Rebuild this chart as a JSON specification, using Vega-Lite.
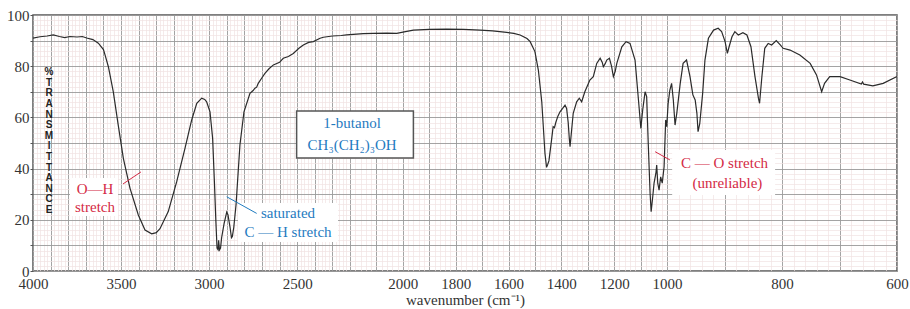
{
  "$schema": "https://vega.github.io/schema/vega-lite/v6.json",
  "width": 864,
  "height": 256,
  "autosize": {"type": "none"},
  "padding": {"left": 33, "top": 15, "right": 13, "bottom": 38},
  "background": "white",
  "config": {
    "view": {"stroke": "#555555", "strokeWidth": 1.5},
    "font": "Liberation Serif",
    "axis": {"domain": false}
  },
  "datasets": {
    "spectrum": [
      {"wn": 4000, "T": 91}, {"wn": 3960, "T": 91.5}, {"wn": 3920, "T": 91.8}, {"wn": 3885, "T": 92.2},
      {"wn": 3850, "T": 91.6}, {"wn": 3820, "T": 91.2}, {"wn": 3790, "T": 91.6}, {"wn": 3750, "T": 91.4},
      {"wn": 3720, "T": 91.6}, {"wn": 3695, "T": 91}, {"wn": 3660, "T": 90.4}, {"wn": 3629, "T": 89},
      {"wn": 3600, "T": 86.5}, {"wn": 3591, "T": 84.4}, {"wn": 3572, "T": 79.8}, {"wn": 3544, "T": 70},
      {"wn": 3516, "T": 57}, {"wn": 3487, "T": 44}, {"wn": 3449, "T": 32.3}, {"wn": 3402, "T": 21.9},
      {"wn": 3364, "T": 16}, {"wn": 3326, "T": 14.5}, {"wn": 3300, "T": 15}, {"wn": 3279, "T": 16.5},
      {"wn": 3232, "T": 23.2}, {"wn": 3184, "T": 34.9}, {"wn": 3137, "T": 47.9}, {"wn": 3099, "T": 59},
      {"wn": 3070, "T": 65.5}, {"wn": 3042, "T": 67.5}, {"wn": 3025, "T": 67}, {"wn": 3014, "T": 66.1},
      {"wn": 2995, "T": 62.2}, {"wn": 2980, "T": 51.8}, {"wn": 2970, "T": 35}, {"wn": 2962, "T": 20},
      {"wn": 2955, "T": 9}, {"wn": 2949, "T": 8.3}, {"wn": 2946, "T": 12}, {"wn": 2941, "T": 8.3},
      {"wn": 2935, "T": 9}, {"wn": 2929, "T": 13}, {"wn": 2915, "T": 18.5}, {"wn": 2900, "T": 23},
      {"wn": 2893, "T": 22}, {"wn": 2881, "T": 17}, {"wn": 2873, "T": 13}, {"wn": 2868, "T": 13.5},
      {"wn": 2860, "T": 17}, {"wn": 2847, "T": 26}, {"wn": 2825, "T": 49.2}, {"wn": 2802, "T": 62.2},
      {"wn": 2768, "T": 69.4}, {"wn": 2750, "T": 70.5}, {"wn": 2740, "T": 71.4}, {"wn": 2730, "T": 71.8},
      {"wn": 2721, "T": 73.3}, {"wn": 2700, "T": 75.5}, {"wn": 2683, "T": 77.2}, {"wn": 2660, "T": 79},
      {"wn": 2635, "T": 80.5}, {"wn": 2600, "T": 81.5}, {"wn": 2579, "T": 83.1}, {"wn": 2550, "T": 83.8},
      {"wn": 2522, "T": 85}, {"wn": 2490, "T": 87}, {"wn": 2465, "T": 88.3}, {"wn": 2435, "T": 89.3},
      {"wn": 2408, "T": 89.6}, {"wn": 2370, "T": 90.9}, {"wn": 2351, "T": 91.3}, {"wn": 2300, "T": 91.8},
      {"wn": 2250, "T": 92}, {"wn": 2219, "T": 92.2}, {"wn": 2150, "T": 92.7}, {"wn": 2112, "T": 92.8},
      {"wn": 2060, "T": 92.9}, {"wn": 2023, "T": 92.8}, {"wn": 1990, "T": 93.5}, {"wn": 1960, "T": 94.1},
      {"wn": 1900, "T": 94.4}, {"wn": 1834, "T": 94.5}, {"wn": 1770, "T": 94.4}, {"wn": 1708, "T": 94.1},
      {"wn": 1660, "T": 93.8}, {"wn": 1607, "T": 93.2}, {"wn": 1580, "T": 92.8}, {"wn": 1556, "T": 92.2},
      {"wn": 1530, "T": 90.8}, {"wn": 1518, "T": 89.6}, {"wn": 1500, "T": 85.7}, {"wn": 1487, "T": 78.5},
      {"wn": 1474, "T": 66}, {"wn": 1462, "T": 46}, {"wn": 1456, "T": 40.5}, {"wn": 1452, "T": 41.5},
      {"wn": 1447, "T": 43}, {"wn": 1437, "T": 51.2}, {"wn": 1431, "T": 56.4}, {"wn": 1426, "T": 56},
      {"wn": 1421, "T": 58}, {"wn": 1413, "T": 60.5}, {"wn": 1405, "T": 62.2}, {"wn": 1395, "T": 63.5},
      {"wn": 1386, "T": 64.8}, {"wn": 1380, "T": 63.5}, {"wn": 1374, "T": 58}, {"wn": 1370, "T": 52},
      {"wn": 1367, "T": 48.6}, {"wn": 1362, "T": 54}, {"wn": 1355, "T": 61.6}, {"wn": 1342, "T": 66.1},
      {"wn": 1332, "T": 67.5}, {"wn": 1323, "T": 66.1}, {"wn": 1311, "T": 70}, {"wn": 1292, "T": 74.6},
      {"wn": 1279, "T": 75.9}, {"wn": 1266, "T": 81.1}, {"wn": 1253, "T": 83.1}, {"wn": 1245, "T": 81.5},
      {"wn": 1241, "T": 79.8}, {"wn": 1234, "T": 81}, {"wn": 1228, "T": 82.4}, {"wn": 1218, "T": 83.1},
      {"wn": 1210, "T": 80}, {"wn": 1203, "T": 75.9}, {"wn": 1196, "T": 78}, {"wn": 1190, "T": 81.1},
      {"wn": 1171, "T": 87.6}, {"wn": 1155, "T": 89.6}, {"wn": 1140, "T": 88.9}, {"wn": 1121, "T": 82.4},
      {"wn": 1108, "T": 66.8}, {"wn": 1099, "T": 55.7}, {"wn": 1092, "T": 62.9}, {"wn": 1083, "T": 70},
      {"wn": 1077, "T": 68.1}, {"wn": 1071, "T": 49.9}, {"wn": 1064, "T": 30.4}, {"wn": 1060, "T": 23.2},
      {"wn": 1054, "T": 29}, {"wn": 1049, "T": 34.3}, {"wn": 1042, "T": 38.2}, {"wn": 1039, "T": 41.4},
      {"wn": 1035, "T": 34.3}, {"wn": 1030, "T": 31.6}, {"wn": 1024, "T": 36.8}, {"wn": 1018, "T": 34.3},
      {"wn": 1011, "T": 40.7}, {"wn": 1005, "T": 59}, {"wn": 1001, "T": 56.4}, {"wn": 998, "T": 65.5},
      {"wn": 995, "T": 70.7}, {"wn": 992, "T": 73.3}, {"wn": 989, "T": 66.8}, {"wn": 986, "T": 57},
      {"wn": 983, "T": 61.6}, {"wn": 977, "T": 73.3}, {"wn": 972, "T": 81.1}, {"wn": 966, "T": 82.4},
      {"wn": 960, "T": 75.9}, {"wn": 955, "T": 68.8}, {"wn": 951, "T": 66.8}, {"wn": 948, "T": 61.6},
      {"wn": 946, "T": 54.4}, {"wn": 943, "T": 57.7}, {"wn": 938, "T": 69.4}, {"wn": 934, "T": 82.4},
      {"wn": 928, "T": 90.9}, {"wn": 919, "T": 94.1}, {"wn": 911, "T": 94.8}, {"wn": 905, "T": 93.5},
      {"wn": 899, "T": 89.6}, {"wn": 895, "T": 85}, {"wn": 892, "T": 87.6}, {"wn": 887, "T": 91.5},
      {"wn": 882, "T": 93.5}, {"wn": 876, "T": 92.2}, {"wn": 868, "T": 93.1}, {"wn": 861, "T": 92.2},
      {"wn": 854, "T": 87.6}, {"wn": 847, "T": 75.9}, {"wn": 841, "T": 67.5}, {"wn": 839, "T": 65.5},
      {"wn": 835, "T": 75.9}, {"wn": 830, "T": 87}, {"wn": 824, "T": 88.9}, {"wn": 818, "T": 88.3},
      {"wn": 810, "T": 90}, {"wn": 803, "T": 88.3}, {"wn": 798, "T": 87}, {"wn": 786, "T": 86.3},
      {"wn": 769, "T": 84.4}, {"wn": 751, "T": 81.1}, {"wn": 740, "T": 76.6}, {"wn": 731, "T": 70},
      {"wn": 726, "T": 73.3}, {"wn": 717, "T": 75.9}, {"wn": 699, "T": 75.9}, {"wn": 682, "T": 74.6},
      {"wn": 662, "T": 73}, {"wn": 660, "T": 73.8}, {"wn": 658, "T": 73}, {"wn": 642, "T": 72.3},
      {"wn": 624, "T": 73.3}, {"wn": 600, "T": 76}
    ],
    "boxes": [
      {"wn1": 3790, "wn2": 3517, "T1": 36.3, "T2": 21.5},
      {"wn1": 2836, "wn2": 2268, "T1": 26.6, "T2": 11.3},
      {"wn1": 991, "wn2": 812, "T1": 47.3, "T2": 29.7}
    ],
    "framed": [
      {"wn1": 2503, "wn2": 1960, "T1": 62.5, "T2": 44.1}
    ],
    "leaders": [
      {"wn1": 3489, "T1": 34, "wn2": 3387, "T2": 38.7, "grp": "red"},
      {"wn1": 2900, "T1": 29, "wn2": 2730, "T2": 22.5, "grp": "blue"},
      {"wn1": 1045, "T1": 46.6, "wn2": 995, "T2": 43.4, "grp": "red"}
    ],
    "labels": [
      {"wn": 3648, "T": 32, "label": "O—H", "grp": "red"},
      {"wn": 3648, "T": 25, "label": "stretch", "grp": "red"},
      {"wn": 2552, "T": 22.7, "label": "saturated", "grp": "blue"},
      {"wn": 2552, "T": 15.2, "label": "C — H stretch", "grp": "blue"},
      {"wn": 900, "T": 42.1, "label": "C — O stretch", "grp": "red"},
      {"wn": 895, "T": 34.3, "label": "(unreliable)", "grp": "red"},
      {"wn": 2192, "T": 57.8, "label": "1-butanol", "grp": "blue"},
      {"wn": 2192, "T": 49.2, "label": "CH₃(CH₂)₃OH", "grp": "blue"}
    ],
    "ytitle": [
      {"wn": 3909, "T": 79.6, "label": "%\nT\nR\nA\nN\nS\nM\nI\nT\nT\nA\nN\nC\nE"}
    ]
  },
  "resolve": {"axis": {"x": "independent", "y": "independent"}},
  "layer": [
    {
      "data": {"name": "boxes"},
      "mark": {"type": "rect", "fill": "white", "strokeWidth": 0},
      "encoding": {
        "x": {"field": "wn1", "type": "quantitative",
          "scale": {"type": "linear", "domain": [4000, 2200, 1000, 600], "range": [0, 317, 634, 864], "nice": false, "zero": false},
          "axis": {"orient": "top", "labels": false, "ticks": false, "domain": false, "title": null,
            "grid": true, "gridColor": "#f0e3e3", "gridWidth": 0.7,
            "values": [3980,3960,3940,3920,3880,3860,3840,3820,3780,3760,3740,3720,3680,3660,3640,3620,3580,3560,3540,3520,3480,3460,3440,3420,3380,3360,3340,3320,3280,3260,3240,3220,3180,3160,3140,3120,3080,3060,3040,3020,2980,2960,2940,2920,2880,2860,2840,2820,2780,2760,2740,2720,2680,2660,2640,2620,2580,2560,2540,2520,2480,2460,2440,2420,2380,2360,2340,2320,2280,2260,2240,2220,2180,2160,2140,2120,2080,2060,2040,2020,1980,1960,1940,1920,1880,1860,1840,1820,1780,1760,1740,1720,1680,1660,1640,1620,1580,1560,1540,1520,1480,1460,1440,1420,1380,1360,1340,1320,1280,1260,1240,1220,1180,1160,1140,1120,1080,1060,1040,1020,980,960,940,920,880,860,840,820,780,760,740,720,680,660,640,620]}},
        "x2": {"field": "wn2"},
        "y": {"field": "T1", "type": "quantitative",
          "scale": {"domain": [0, 100], "nice": false, "zero": false},
          "axis": {"orient": "right", "labels": false, "ticks": false, "domain": false, "title": null,
            "grid": true, "gridColor": "#f0e3e3", "gridWidth": 0.7,
            "values": [2,4,6,8,12,14,16,18,22,24,26,28,32,34,36,38,42,44,46,48,52,54,56,58,62,64,66,68,72,74,76,78,82,84,86,88,92,94,96,98]}},
        "y2": {"field": "T2"}
      }
    },
    {
      "data": {"name": "spectrum"},
      "mark": {"type": "line", "color": "#2b2b2b", "strokeWidth": 1.2},
      "encoding": {
        "x": {"field": "wn", "type": "quantitative",
          "axis": {"orient": "bottom", "format": "d", "grid": true, "gridColor": "#9a9a9a", "gridWidth": 0.9,
            "ticks": false, "labelFont": "Liberation Serif", "labelFontSize": 15, "labelColor": "#333333",
            "labelPadding": 5, "labelFlush": false, "labelOverlap": false,
            "values": [4000,3900,3800,3700,3600,3500,3400,3300,3200,3100,3000,2900,2800,2700,2600,2500,2400,2300,2200,2100,2000,1900,1800,1700,1600,1500,1400,1300,1200,1100,1000,900,800,700,600],
            "labelExpr": "indexof([4000,3500,3000,2500,2000,1800,1600,1400,1200,1000,800,600], datum.value) >= 0 ? datum.label : ''",
            "title": "wavenumber (cm⁻¹)", "titleFont": "Liberation Serif", "titleFontSize": 15,
            "titleFontWeight": "normal", "titleColor": "#333333", "titlePadding": 1}},
        "y": {"field": "T", "type": "quantitative",
          "axis": {"orient": "left", "grid": true, "gridColor": "#9a9a9a", "gridWidth": 0.9,
            "ticks": true, "tickSize": 3, "tickColor": "#555555", "labelPadding": 1,
            "labelFont": "Liberation Serif", "labelFontSize": 15, "labelColor": "#333333",
            "values": [0,10,20,30,40,50,60,70,80,90,100],
            "labelExpr": "datum.value % 20 == 0 ? datum.label : ''",
            "title": null}}
      }
    },
    {
      "data": {"name": "framed"},
      "mark": {"type": "rect", "fill": "white", "stroke": "#555555", "strokeWidth": 1.5},
      "encoding": {
        "x": {"field": "wn1", "type": "quantitative", "axis": null},
        "x2": {"field": "wn2"},
        "y": {"field": "T1", "type": "quantitative", "axis": null},
        "y2": {"field": "T2"}
      }
    },
    {
      "data": {"name": "leaders"},
      "mark": {"type": "rule", "strokeWidth": 1},
      "encoding": {
        "x": {"field": "wn1", "type": "quantitative", "axis": null},
        "x2": {"field": "wn2"},
        "y": {"field": "T1", "type": "quantitative", "axis": null},
        "y2": {"field": "T2"},
        "color": {"field": "grp", "type": "nominal", "scale": {"domain": ["red", "blue"], "range": ["#d42a45", "#1f7bbf"]}, "legend": null}
      }
    },
    {
      "data": {"name": "labels"},
      "mark": {"type": "text", "font": "Liberation Serif", "fontSize": 15, "align": "center", "baseline": "middle"},
      "encoding": {
        "x": {"field": "wn", "type": "quantitative", "axis": null},
        "y": {"field": "T", "type": "quantitative", "axis": null},
        "text": {"field": "label"},
        "color": {"field": "grp", "type": "nominal", "scale": {"domain": ["red", "blue"], "range": ["#d42a45", "#1f7bbf"]}, "legend": null}
      }
    },
    {
      "data": {"name": "ytitle"},
      "mark": {"type": "text", "font": "Liberation Sans", "fontSize": 10, "fontWeight": "bold", "lineBreak": "\n", "lineHeight": 10.6, "align": "center", "baseline": "top", "color": "#222222"},
      "encoding": {
        "x": {"field": "wn", "type": "quantitative", "axis": null},
        "y": {"field": "T", "type": "quantitative", "axis": null},
        "text": {"field": "label"}
      }
    }
  ]
}
